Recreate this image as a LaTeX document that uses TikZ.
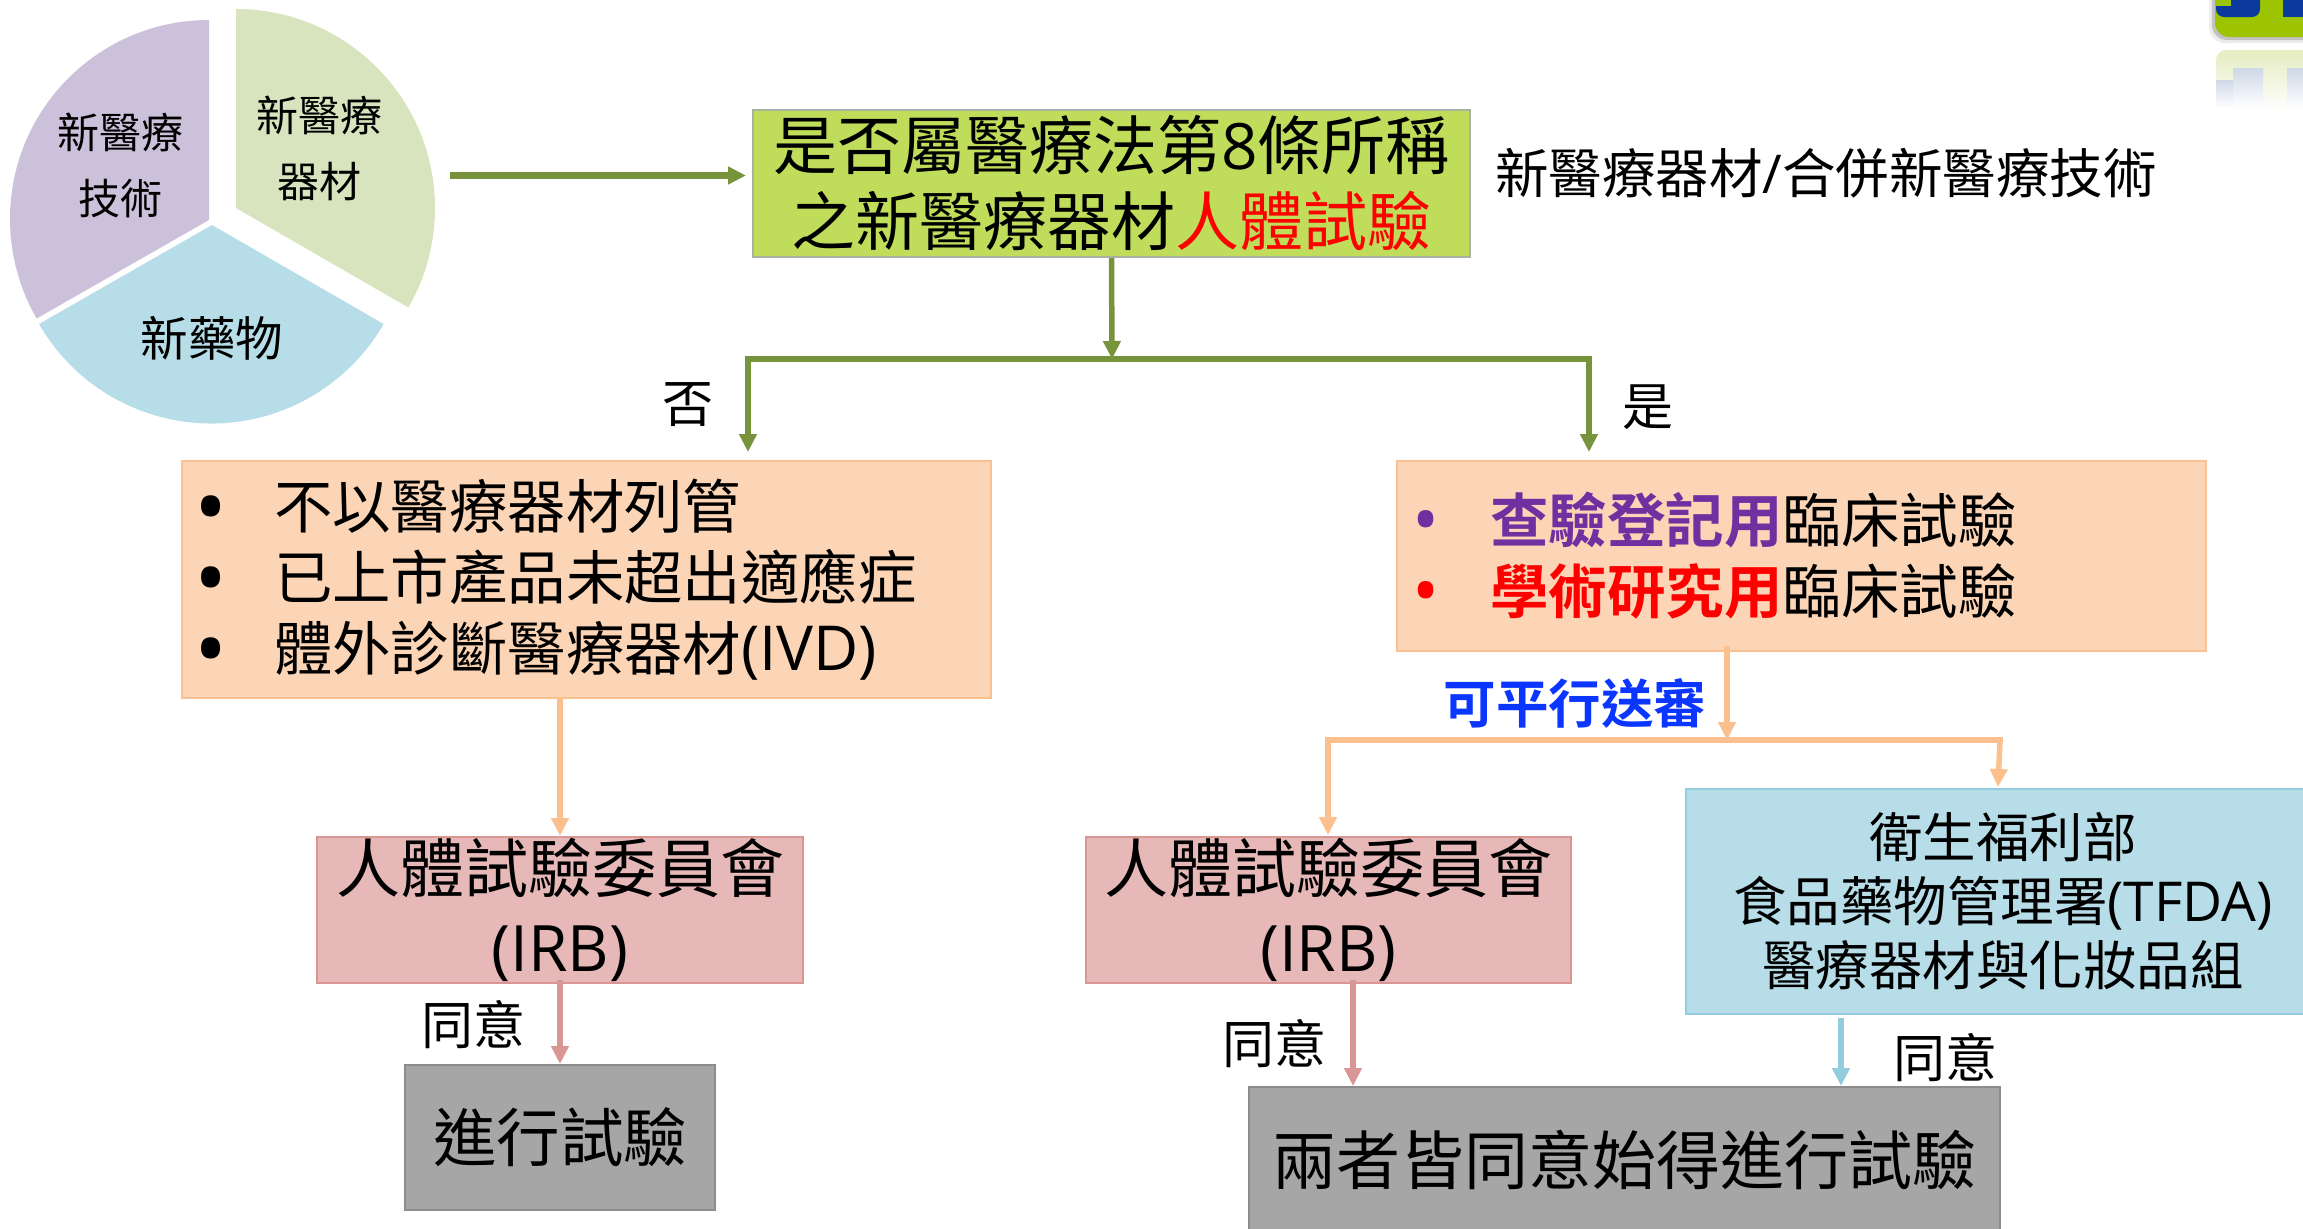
\documentclass[tikz,border=0pt]{standalone}
\usepackage{fontspec}
\setmainfont{Noto Sans CJK TC}[BoldFont={Noto Sans CJK TC Bold}]
\newfontfamily\latfont{Open Sans}
\newcommand{\lat}[1]{{\latfont #1}}
\usetikzlibrary{arrows.meta,calc}
\definecolor{arrowgreen}{HTML}{77933C}
\definecolor{arroworange}{HTML}{FCC08F}
\definecolor{arrowred}{HTML}{D99694}
\definecolor{arrowblue}{HTML}{93CDDD}
\definecolor{purplebold}{HTML}{7030A0}
\definecolor{sendblue}{HTML}{0B36FF}
\definecolor{fgreen}{HTML}{BFDD5A}
\definecolor{dgreen}{HTML}{A9B2A0}
\definecolor{forange}{HTML}{FBD5B5}
\definecolor{dorange}{HTML}{FAC08F}
\definecolor{fred}{HTML}{E6B9B8}
\definecolor{fblue}{HTML}{B7DEE8}
\definecolor{fgray}{HTML}{A6A6A6}
\definecolor{dgray}{HTML}{8C8C8C}
\definecolor{piegreen}{HTML}{D7E4BD}
\definecolor{piepurple}{HTML}{CCC1DA}
\definecolor{logogreen}{HTML}{9CC400}
\definecolor{logoblue}{HTML}{0B3A9E}
\definecolor{refgreen}{HTML}{E4ECC0}
\definecolor{refblue}{HTML}{CFD8E8}
\newcommand{\fs}[2]{\fontsize{#1}{#2}\selectfont}
% bullet: colour, box width, size, drop
\newcommand{\bul}[4]{\makebox[#2pt][l]{\smash{\raisebox{-#4pt}{\textcolor{#1}{\latfont\fontsize{#3}{#3}\selectfont •}}}}}
\tikzset{
  boxbase/.style={draw,line width=2pt,inner sep=0pt,align=center,text=black},
  greenbox/.style={boxbase,fill=fgreen,draw=dgreen},
  orangebox/.style={boxbase,fill=forange,draw=dorange},
  redbox/.style={boxbase,fill=fred,draw=arrowred},
  bluebox/.style={boxbase,fill=fblue,draw=arrowblue},
  graybox/.style={boxbase,fill=fgray,draw=dgray},
  conn/.style={line width=5.5pt,-{Triangle[length=18pt,width=17pt]}},
  bar/.style={line width=5.5pt,line cap=rect},
  plainlabel/.style={inner sep=0pt,text=black,align=center},
}
\begin{document}
\begin{tikzpicture}[x=1pt,y=-1pt]
\useasboundingbox (0,0) rectangle (2303,1229);
\clip (0,0) rectangle (2303,1229);
% pie
\fill[piegreen] (236,208) -- (236,9) arc[start angle=90,end angle=-30,radius=199pt] -- cycle;
\fill[piepurple] (209,220) -- (209,20) arc[start angle=90,end angle=210,radius=199pt] -- cycle;
\fill[fblue] (212,225) -- (39,324) arc[start angle=210,end angle=330,radius=199pt] -- cycle;
\node[plainlabel,font=\fs{42}{66}] (devicelabel) at (319,148) {新醫療\\器材};
\node[plainlabel,font=\fs{42}{66}] (techlabel) at (120,165) {新醫療\\技術};
\node[plainlabel,font=\fs{47.5}{56}] (druglabel) at (212,338) {新藥物};
% logo fragment
\fill[black!30,opacity=.25,rounded corners=16pt] (2209,-30) rectangle (2320,43);
\fill[black!40,opacity=.5,rounded corners=15pt] (2212,-30) rectangle (2320,40);
\fill[logogreen,rounded corners=14pt] (2215,-30) rectangle (2320,37);
\fill[logoblue,rounded corners=8pt] (2216,-20) rectangle (2260,17);
\fill[logoblue] (2283,-20) rectangle (2320,17);
\fill[logogreen] (2216,-5) rectangle (2231,6);
\shade[top color=refgreen,bottom color=white,rounded corners=10pt] (2216,50) rectangle (2320,110);
\shade[top color=refblue,bottom color=white] (2233,68) rectangle (2263,108);
\shade[top color=refblue,bottom color=white] (2287,68) rectangle (2303,108);
\shade[top color=refblue,bottom color=white] (2216,80) rectangle (2233,108);
% main nodes
\node[greenbox,minimum width=717pt,minimum height=147pt,font=\fs{64}{76}] (question) at (1111.5,183.5)
  {是否屬醫療法第\lat{8}條所稱\\之新醫療器材\textcolor{red}{人體試驗}};
\node[plainlabel,anchor=west,font=\fs{53.5}{60}] (sidetext) at (1495,173) {新醫療器材\lat{/}合併新醫療技術};
\node[orangebox,minimum width=809pt,minimum height=237pt,text width=785pt,align=left,font=\fs{58.4}{71}] (nobox) at (586.5,579.5)
  {\bul{black}{80}{88}{10}不以醫療器材列管\\\bul{black}{80}{88}{10}已上市產品未超出適應症\\\bul{black}{80}{88}{10}體外診斷醫療器材{\latfont\fontsize{62}{71}\selectfont (IVD)}};
\node[orangebox,minimum width=809pt,minimum height=190pt,text width=781pt,align=left,font=\fs{58.5}{71}] (yesbox) at (1801.5,556)
  {\hspace{1.5pt}\bul{purplebold}{77.5}{72}{3}\textcolor{purplebold}{\bfseries 查驗登記用}臨床試驗\\\hspace{1.5pt}\bul{red}{77.5}{72}{3}\textcolor{red}{\bfseries 學術研究用}臨床試驗};
\node[redbox,minimum width=486pt,minimum height=146pt,font=\fs{64}{79}] (irbleft) at (560,910)
  {人體試驗委員會\\\lat{(IRB)}};
\node[redbox,minimum width=485pt,minimum height=146pt,font=\fs{64}{79}] (irbright) at (1328.5,910)
  {人體試驗委員會\\\lat{(IRB)}};
\node[bluebox,minimum width=634pt,minimum height=225pt,font=\fs{53.5}{64}] (tfda) at (2003,901.5)
  {衛生福利部\\食品藥物管理署{\latfont\fontsize{55}{64}\selectfont (TFDA)}\\醫療器材與化妝品組};
\node[graybox,minimum width=310pt,minimum height=145pt,font=\fs{63.5}{72}] (runleft) at (560,1137.5) {進行試驗};
\node[graybox,minimum width=751pt,minimum height=146pt,font=\fs{64}{80}] (runright) at (1624.5,1160) {兩者皆同意始得進行試驗};
% labels
\node[plainlabel,font=\fs{51}{56}] (nolabel) at (688,405) {否};
\node[plainlabel,font=\fs{51}{56}] (yeslabel) at (1648,407) {是};
\node[plainlabel,font=\fs{52.5}{60}\bfseries,text=sendblue] (parallel) at (1575,703) {可平行送審};
\node[plainlabel,font=\fs{52}{56}] (agreeA) at (473,1025) {同意};
\node[plainlabel,font=\fs{52}{56}] (agreeB) at (1274,1044) {同意};
\node[plainlabel,font=\fs{52}{56}] (agreeC) at (1945,1058) {同意};
% junction coordinates
\coordinate (pieout) at (450,175.5);
\coordinate (splitC) at (1112,359);
\coordinate (splitL) at (748,359);
\coordinate (splitR) at (1589,359);
\coordinate (tipL) at (748,452);
\coordinate (tipR) at (1589,452);
\coordinate (parC) at (1727,740);
\coordinate (parL) at (1328,740);
\coordinate (parR) at (2000,740);
\coordinate (parRtip) at (1998,787);
\coordinate (parLtip) at (1328,835);
\coordinate (redx) at (1353,0);
\coordinate (bluex) at (1841,0);
% green connectors
\draw[conn,line width=6.5pt,arrowgreen,shorten >=6pt] (pieout) -- (question.west |- pieout);
\draw[conn,arrowgreen] (question.south) -- (splitC);
\draw[bar,arrowgreen] (splitL) -- (splitR);
\draw[conn,arrowgreen] (splitL) -- (tipL);
\draw[conn,arrowgreen] (splitR) -- (tipR);
% orange connectors
\draw[conn,arroworange,shorten <=-6pt] (parC |- yesbox.south) -- (parC);
\draw[bar,arroworange] (parL) -- (parR);
\draw[conn,arroworange] (parL) -- (parLtip);
\draw[conn,arroworange] (parR) -- (parRtip);
\draw[conn,arroworange] (nobox.south -| irbleft.north) -- (irbleft.north);
% agree connectors
\draw[conn,arrowred,shorten <=-4pt] (irbleft.south) -- (runleft.north);
\draw[conn,arrowred,shorten <=-4pt] (redx |- irbright.south) -- (redx |- runright.north);
\draw[conn,arrowblue,shorten <=3pt] (bluex |- tfda.south) -- (bluex |- runright.north);
\end{tikzpicture}
\end{document}
